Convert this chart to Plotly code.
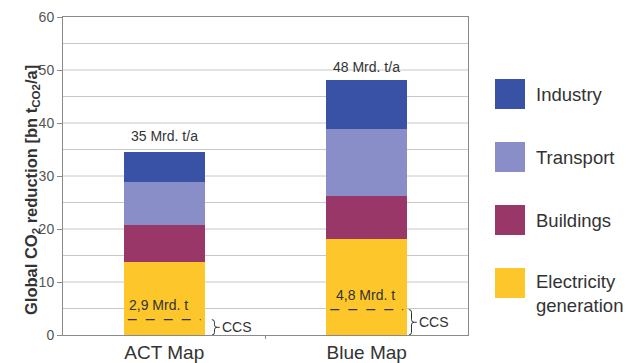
import plotly.graph_objects as go

# Scenarios and sector contributions to global CO2 reduction (bn t CO2 / a)
scenarios = ["ACT Map", "Blue Map"]
electricity = [13.7, 18.1]
buildings = [7.0, 8.2]
transport = [8.2, 12.6]
industry = [5.7, 9.2]
totals = [35, 48]
total_labels = ["35 Mrd. t/a", "48 Mrd. t/a"]
ccs = [2.9, 4.8]
ccs_labels = ["2,9 Mrd. t", "4,8 Mrd. t"]

sectors = ["Electricity<br>generation", "Buildings", "Transport", "Industry"]
series = [electricity, buildings, transport, industry]
colors = ["#fdc72c", "#983768", "#8a8ec8", "#3a52a5"]

W, H = 630, 363
ML, MR, MT, MB = 63, 162, 17, 28
PW, PH = W - ML - MR, H - MT - MB


def px_x(px):
    """figure pixel x -> paper coordinate"""
    return (px - ML) / PW


def px_y(py):
    """figure pixel y (from top) -> paper coordinate"""
    return (H - MB - py) / PH


xpos = list(range(len(scenarios)))
bar_w = 0.40
text_col = "#333333"
grid_col = "#c8c8c8"
axis_col = "#8a8a8a"

fig = go.Figure()
for name, vals, col in zip(sectors, series, colors):
    fig.add_trace(go.Bar(x=xpos, y=vals, name=name.replace("<br>", " "),
                         marker=dict(color=col, line_width=0),
                         width=bar_w, showlegend=False, hoverinfo="y+name"))

shapes = []
annotations = []

label_dx = [-0.03, -0.005]
brace_gap = [0.035, 0.008]
for i, x in enumerate(xpos):
    # total above each bar
    annotations.append(dict(x=x, y=totals[i], xref="x", yref="y", text=total_labels[i],
                            showarrow=False, yanchor="bottom", yshift=4,
                            font=dict(size=14, color=text_col)))
    # CCS share: dashed line inside the electricity block
    shapes.append(dict(type="line", xref="x", yref="y", x0=x - bar_w / 2 + 0.02, x1=x + bar_w / 2 - 0.02,
                       y0=ccs[i], y1=ccs[i], line=dict(color="#333333", width=1.3, dash="dash")))
    annotations.append(dict(x=x + label_dx[i], y=ccs[i], xref="x", yref="y", text=ccs_labels[i],
                            showarrow=False, yanchor="bottom", yshift=5,
                            font=dict(size=14, color=text_col)))
    # curly brace from CCS line down to the baseline
    bx = x + bar_w / 2 + brace_gap[i]
    w = 0.013
    top, bot = ccs[i], 0.0
    mid = (top + bot) / 2
    r = min(0.5, (top - bot) / 6)
    path = (f"M {bx},{top} Q {bx + w},{top} {bx + w},{top - r} "
            f"L {bx + w},{mid + r} Q {bx + w},{mid} {bx + 2 * w},{mid} "
            f"L {bx + 3 * w},{mid} M {bx + 2 * w},{mid} "
            f"Q {bx + w},{mid} {bx + w},{mid - r} "
            f"L {bx + w},{bot + r} Q {bx + w},{bot} {bx},{bot}")
    shapes.append(dict(type="path", xref="x", yref="y", path=path,
                       line=dict(color="#333333", width=1)))
    annotations.append(dict(x=bx + 3 * w, y=mid, xref="x", yref="y", text="CCS",
                            showarrow=False, xanchor="left", xshift=0,
                            font=dict(size=14, color=text_col)))

# legend drawn as large swatches on the right, top to bottom
legend_items = list(zip(sectors, colors))[::-1]
for k, (name, col) in enumerate(legend_items):
    top_px = 79 + k * 63
    y1 = px_y(top_px)
    y0 = px_y(top_px + 30)
    shapes.append(dict(type="rect", xref="paper", yref="paper", x0=px_x(495), x1=px_x(525),
                       y0=y0, y1=y1, fillcolor=col, line_width=0, layer="above"))
    two_lines = "<br>" in name
    annotations.append(dict(x=px_x(534), y=(y0 + y1) / 2, xref="paper", yref="paper", text=name,
                            showarrow=False, xanchor="left", yanchor="middle", align="left",
                            yshift=-10 if two_lines else 0,
                            font=dict(size=18.5, color=text_col)))

# y-axis title
annotations.append(dict(x=px_x(20), y=px_y(190), xref="paper", yref="paper",
                        text="<b>Global CO<sub>2</sub> reduction [bn t<sub>CO2</sub>/a]</b>",
                        textangle=-90, showarrow=False, font=dict(size=16.5, color=text_col)))

# category boundary tick on x axis
shapes.append(dict(type="line", xref="x", yref="paper", x0=0.5, x1=0.5, y0=0, y1=-4 / PH,
                   line=dict(color=axis_col, width=1)))

fig.update_layout(
    width=W, height=H,
    margin=dict(l=ML, r=MR, t=MT, b=MB),
    paper_bgcolor="white", plot_bgcolor="white",
    barmode="stack",
    font=dict(family="Liberation Sans, Arial, sans-serif", color=text_col),
    shapes=shapes, annotations=annotations,
    xaxis=dict(range=[-0.5, 1.5], tickvals=xpos, ticktext=scenarios, ticks="",
               tickfont=dict(size=19, color=text_col), showgrid=False, zeroline=False,
               showline=True, linecolor=axis_col, linewidth=1, mirror=True,
               automargin=False),
    yaxis=dict(range=[0, 60], tickvals=[0, 10, 20, 30, 40, 50, 60],
               ticks="outside", ticklen=5, tickcolor=axis_col,
               tickfont=dict(size=14, color="#555555"),
               showgrid=False, zeroline=False,
               showline=True, linecolor=axis_col, linewidth=1, mirror=True,
               automargin=False),
)

# horizontal grid every 5 units
for g in range(5, 60, 5):
    fig.add_shape(type="line", xref="paper", yref="y", x0=0, x1=1, y0=g, y1=g,
                  line=dict(color=grid_col, width=1), layer="below")

fig.write_html("out.html")
